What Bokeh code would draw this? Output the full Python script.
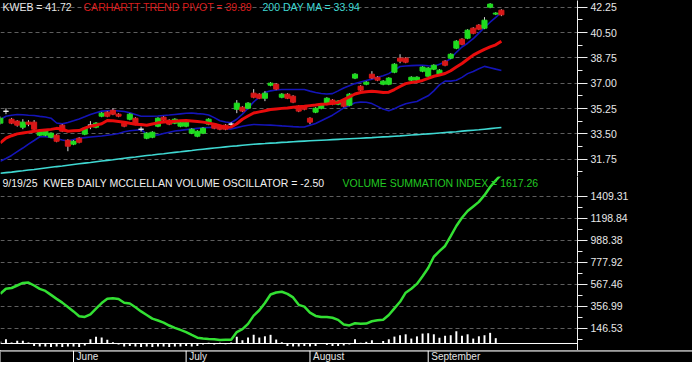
from bokeh.plotting import figure
from bokeh.layouts import column
from bokeh.models import (Range1d, LinearAxis, FixedTicker, PrintfTickFormatter,
                          Label, Span, Grid, ColumnDataSource)
from bokeh.embed import file_html
from bokeh.resources import INLINE
from bokeh.core.properties import value

# ---------------- data ----------------
# trading-day index, 0 = June 2 2025, last = Sep 19 2025
day_index = list(range(-13, 77))
month_names = ["June", "July", "August", "September"]
month_start_idx = [0, 20, 42, 63]

opens = [34.24, 35.06, 34.51, 34.38, 33.96, 34.31, 34.31, 33.41, 33.41, 33.27,
         33.41, 34.10, 33.06, 32.79, 33.20, 33.48, 34.10, 33.96, 34.72, 35.00,
         35.13, 34.86, 34.24, 34.51, 34.58, 33.82, 33.20, 33.27, 34.03, 34.65,
         34.44, 34.24, 34.03, 34.03, 33.55, 33.34, 33.55, 34.17, 34.17, 34.03,
         34.10, 34.17, 35.20, 35.34, 35.27, 36.31, 36.24, 35.96, 36.86, 36.93,
         36.03, 36.24, 36.10, 35.41, 35.41, 34.58, 35.00, 35.27, 35.55, 35.83,
         35.55, 35.83, 35.48, 37.35, 36.79, 36.93, 37.62, 37.41, 36.93, 36.93,
         37.76, 38.73, 38.73, 37.21, 37.21, 37.83, 37.48, 37.97, 37.62, 38.52,
         38.73, 39.42, 40.04, 40.11, 40.80, 41.01, 40.80, 42.25, 41.77, 42.04]
highs = [34.70, 35.27, 34.60, 34.45, 34.51, 34.44, 34.45, 33.75, 33.82, 33.60,
         33.48, 34.17, 33.13, 33.06, 33.27, 33.96, 34.38, 34.31, 35.00, 35.07,
         35.27, 34.93, 34.31, 34.93, 34.65, 34.00, 33.62, 33.68, 34.65, 34.72,
         34.51, 34.58, 34.38, 34.38, 33.89, 33.75, 33.96, 34.58, 34.24, 34.10,
         34.17, 34.31, 35.83, 35.41, 35.69, 36.59, 36.31, 36.45, 37.07, 37.00,
         36.31, 36.31, 36.17, 35.48, 35.48, 34.65, 35.34, 35.62, 36.03, 35.90,
         35.83, 35.90, 36.31, 37.69, 36.86, 37.14, 37.83, 37.48, 37.21, 37.41,
         38.38, 39.00, 38.80, 37.48, 37.48, 38.17, 38.11, 38.31, 37.97, 38.59,
         39.07, 39.97, 40.11, 40.73, 40.87, 41.08, 41.56, 42.53, 41.90, 42.11]
lows = [34.15, 34.86, 34.17, 34.00, 33.82, 34.03, 33.70, 33.35, 33.34, 33.20,
        32.92, 33.62, 32.30, 32.72, 32.85, 33.41, 33.82, 33.89, 34.65, 34.65,
        34.79, 34.65, 33.96, 34.44, 34.10, 33.65, 33.13, 33.20, 33.96, 34.38,
        34.10, 34.17, 33.96, 33.96, 33.48, 33.27, 33.48, 34.10, 33.82, 33.75,
        33.75, 34.03, 34.93, 35.00, 35.20, 35.96, 35.90, 35.76, 36.79, 36.52,
        35.96, 35.90, 35.62, 35.00, 35.13, 34.17, 34.93, 35.20, 35.48, 35.48,
        35.48, 35.34, 35.41, 37.28, 36.45, 36.86, 37.28, 37.14, 36.86, 36.86,
        37.69, 38.38, 38.38, 37.14, 37.14, 37.76, 37.41, 37.90, 37.55, 38.17,
        38.66, 39.35, 39.62, 40.04, 40.38, 40.66, 40.73, 42.18, 41.70, 41.63]
closes = [34.58, 35.06, 34.24, 34.10, 34.31, 34.17, 33.82, 33.68, 33.75, 33.55,
          32.99, 33.68, 32.65, 32.99, 32.92, 33.89, 34.10, 34.24, 34.93, 34.72,
          34.86, 34.72, 34.03, 34.86, 34.24, 33.82, 33.55, 33.61, 34.58, 34.44,
          34.17, 34.51, 34.31, 34.31, 33.82, 33.68, 33.89, 34.51, 33.89, 33.82,
          33.82, 34.17, 35.62, 35.07, 35.62, 36.03, 35.96, 36.31, 37.00, 36.59,
          36.24, 35.96, 35.69, 35.07, 35.20, 34.31, 35.27, 35.55, 35.96, 35.55,
          35.76, 35.41, 36.24, 37.62, 36.52, 37.07, 37.35, 37.21, 37.14, 37.35,
          38.31, 38.52, 38.45, 37.41, 37.41, 38.11, 38.04, 38.24, 37.90, 38.24,
          39.00, 39.90, 39.69, 40.66, 40.45, 40.73, 41.35, 42.46, 41.84, 41.72]

trend_pivot = [32.88, 33.20, 33.37, 33.50, 33.56, 33.62, 33.68, 33.73, 33.77, 33.81,
               33.88, 33.82, 33.68, 33.71, 33.73, 33.89, 34.03, 34.10, 34.20, 34.42,
               34.40, 34.36, 34.30, 34.23, 34.17, 34.14, 34.10, 34.18, 34.26, 34.31,
               34.34, 34.37, 34.40, 34.42, 34.39, 34.35, 34.31, 34.24, 34.17, 34.06,
               33.95, 33.97, 34.20, 34.51, 34.73, 34.94, 35.02, 35.10, 35.18, 35.22,
               35.26, 35.29, 35.34, 35.38, 35.41, 35.45, 35.49, 35.54, 35.57, 35.61,
               35.67, 35.86, 36.05, 36.25, 36.36, 36.41, 36.44, 36.40, 36.36, 36.38,
               36.56, 36.77, 36.97, 37.05, 37.10, 37.19, 37.33, 37.48, 37.57, 37.67,
               37.86, 38.11, 38.36, 38.65, 38.94, 39.14, 39.34, 39.51, 39.65, 39.89]
upper_band = [34.49, 34.72, 34.78, 34.84, 34.82, 34.79, 34.77, 34.71, 34.66, 34.58,
              34.25, 34.19, 34.28, 34.40, 34.53, 34.68, 34.84, 34.96, 35.07, 35.09,
              35.11, 35.08, 35.04, 34.96, 34.84, 34.72, 34.72, 34.72, 34.73, 34.77,
              34.80, 34.84, 34.88, 34.92, 34.94, 34.90, 34.87, 34.80, 34.62, 34.41,
              34.32, 34.27, 34.51, 34.86, 35.27, 35.71, 36.03, 36.35, 36.47, 36.53,
              36.56, 36.56, 36.56, 36.56, 36.56, 36.45, 36.36, 36.29, 36.25, 36.28,
              36.47, 36.67, 36.82, 36.97, 37.08, 37.18, 37.28, 37.40, 37.51, 37.66,
              37.90, 38.15, 38.19, 38.21, 38.23, 38.24, 38.20, 38.17, 38.31, 38.46,
              38.70, 39.13, 39.50, 39.76, 40.07, 40.46, 40.85, 41.21, 41.54, 41.88]
lower_band = [31.61, 31.80, 32.01, 32.27, 32.52, 32.79, 33.04, 33.30, 33.30, 33.25,
              33.17, 33.08, 33.01, 33.10, 33.20, 33.24, 33.28, 33.32, 33.35, 33.40,
              33.45, 33.53, 33.64, 33.71, 33.75, 33.79, 33.48, 33.43, 33.42, 33.52,
              33.61, 33.70, 33.74, 33.79, 33.84, 33.88, 33.92, 33.94, 33.95, 33.93,
              33.87, 33.83, 33.93, 34.02, 34.10, 34.15, 34.13, 34.11, 34.10, 34.08,
              34.05, 34.03, 34.00, 33.98, 33.97, 34.10, 34.22, 34.41, 34.60, 34.79,
              35.04, 35.29, 35.46, 35.65, 35.69, 35.68, 35.59, 35.40, 35.21, 35.09,
              35.23, 35.43, 35.58, 35.66, 35.74, 35.94, 36.13, 36.47, 36.88, 37.14,
              37.14, 37.20, 37.40, 37.66, 37.81, 38.00, 38.16, 38.07, 37.97, 37.88]
ma200 = [30.78, 30.82, 30.86, 30.91, 30.95, 31.00, 31.04, 31.09, 31.14, 31.19,
         31.24, 31.28, 31.33, 31.38, 31.43, 31.48, 31.52, 31.57, 31.62, 31.67,
         31.71, 31.76, 31.81, 31.86, 31.90, 31.95, 32.00, 32.04, 32.09, 32.13,
         32.18, 32.22, 32.26, 32.31, 32.35, 32.40, 32.44, 32.48, 32.52, 32.56,
         32.60, 32.64, 32.67, 32.71, 32.75, 32.78, 32.81, 32.83, 32.86, 32.88,
         32.91, 32.93, 32.96, 32.98, 33.00, 33.02, 33.04, 33.06, 33.08, 33.10,
         33.12, 33.14, 33.16, 33.18, 33.20, 33.22, 33.24, 33.27, 33.29, 33.31,
         33.34, 33.36, 33.39, 33.42, 33.45, 33.47, 33.50, 33.53, 33.56, 33.59,
         33.62, 33.65, 33.69, 33.72, 33.75, 33.78, 33.82, 33.86, 33.90, 33.94]

vol_sum_index = [476, 524, 531, 555, 579, 583, 555, 522, 503, 465,
                 427, 391, 350, 307, 261, 254, 279, 334, 387, 429,
                 432, 426, 390, 382, 347, 307, 273, 238, 220, 200,
                 172, 150, 130, 109, 82, 56, 47, 43, 40, 33,
                 35, 36, 109, 137, 188, 267, 318, 388, 469, 488,
                 495, 475, 441, 370, 353, 295, 264, 254, 254, 246,
                 226, 182, 173, 194, 188, 191, 213, 223, 228, 272,
                 336, 399, 486, 524, 570, 643, 722, 830, 883, 933,
                 1027, 1124, 1203, 1267, 1311, 1355, 1419, 1497, 1561, 1617.26]
vol_oscillator = [19, 41, 9, 26, 26, 9, -24, -28, -28, -33,
                  -28, -33, -28, -28, -33, -19, 41, 64, 57, 35,
                  12, -9, -28, -24, -28, -33, -28, -33, -28, -28,
                  -33, -28, -28, -24, -28, -24, -9, 8, -9, 8,
                  -8, 9, 64, 31, 57, 83, 57, 69, 83, 38,
                  12, -24, -28, -28, -24, -28, -24, -5, -14, -24,
                  -24, -19, -9, 41, 7, 16, 31, 5, 24, 40,
                  66, 79, 88, 47, 68, 95, 98, 88, 55, 74,
                  79, 117, 74, 88, 47, 69, 79, 102, 51, -2.5]

price_ticks = [31.75, 33.50, 35.25, 37.00, 38.75, 40.50, 42.25]
vsi_ticks = [146.53, 356.99, 567.46, 777.92, 988.38, 1198.84, 1409.31]
last_date = "9/19/25"
symbol = "KWEB"

# ---------------- layout / style ----------------
FONT = "Liberation Sans"
FS = "10.5px"
W = 692
RIGHT = 115
X0, X1 = -12.97, 89.52
GRID_COLOR = "#5e5e5e"
AX_COLOR = "#f0f0f0"


def make_fig(width, height, x_range, y_range, right):
    p = figure(width=width, height=height, x_range=x_range, y_range=y_range,
               output_backend="svg", toolbar_location=None,
               x_axis_location=None, y_axis_location=None,
               min_border_left=0, min_border_right=right,
               min_border_top=0, min_border_bottom=0,
               background_fill_color="black", border_fill_color="black",
               outline_line_color=None)
    for r in list(p.center):
        if isinstance(r, Grid):
            r.visible = False
    return p


def add_right_axis(p, ticks):
    minor = [(a + b) / 2 for a, b in zip(ticks[:-1], ticks[1:])]
    minor = [ticks[0] - (ticks[1] - ticks[0]) / 2] + minor
    ax = LinearAxis(ticker=FixedTicker(ticks=ticks, minor_ticks=minor),
                    formatter=PrintfTickFormatter(format="%.2f"))
    ax.axis_line_color = AX_COLOR
    ax.major_tick_line_color = AX_COLOR
    ax.minor_tick_line_color = AX_COLOR
    ax.major_tick_in = 0
    ax.major_tick_out = 10
    ax.minor_tick_in = 0
    ax.minor_tick_out = 5
    ax.major_label_standoff = 3
    ax.major_label_text_color = "#e8e8e8"
    ax.major_label_text_font = FONT
    ax.major_label_text_font_size = FS
    p.add_layout(ax, "right")
    g = Grid(dimension=1, ticker=FixedTicker(ticks=ticks))
    g.grid_line_color = GRID_COLOR
    g.grid_line_dash = "4 3"
    g.grid_line_width = 1
    p.add_layout(g)


# ---------- price panel ----------
top = make_fig(W, 176, Range1d(X0, X1), Range1d(30.555, 42.71), RIGHT)
add_right_axis(top, price_ticks)

colors = []
for o, c in zip(opens, closes):
    if c > o:
        colors.append("#1fdc1f")
    elif c < o:
        colors.append("#d81818")
    else:
        colors.append("#f0f0f0")
src = ColumnDataSource(dict(
    x=day_index, o=opens, h=highs, l=lows, c=closes,
    t=[max(o, c) for o, c in zip(opens, closes)],
    b=[min(o, c) for o, c in zip(opens, closes)],
    col=colors))

top.line(day_index, ma200, line_color="#3fd8d2", line_width=1.6)
top.line(day_index, upper_band, line_color="#1414b8", line_width=1.6)
top.line(day_index, lower_band, line_color="#1414b8", line_width=1.6)
top.segment(x0="x", y0="l", x1="x", y1="h", source=src, line_color="#d8d8d8", line_width=1)
top.vbar(x="x", width=0.9, top="t", bottom="b", source=src,
         fill_color="col", line_color="col", line_width=1)
top.line(day_index, trend_pivot, line_color="#e80c0c", line_width=3)

top.add_layout(Label(x=-12.62, y=42.25, text=f"{symbol} = {closes[-1]:.2f}",
                     text_color="#e8e8e8", text_font=FONT, text_font_size=FS,
                     text_baseline="middle"))
top.add_layout(Label(x=1.78, y=42.25, text=f"CARHARTT TREND PIVOT = {trend_pivot[-1]:.2f}",
                     text_color="#d81c1c", text_font=FONT, text_font_size=FS,
                     text_baseline="middle"))
top.add_layout(Label(x=33.57, y=42.25, text=f"200 DAY MA = {ma200[-1]:.2f}",
                     text_color="#3fd8d2", text_font=FONT, text_font_size=FS,
                     text_baseline="middle"))

# ---------- volume panel ----------
bot = make_fig(W, 174, Range1d(X0, X1), Range1d(-67, 1597.7), RIGHT)
add_right_axis(bot, vsi_ticks)
bot.add_layout(Span(location=0, dimension="width", line_color="white", line_width=1))
bot.vbar(x=day_index, width=0.35, top=vol_oscillator, bottom=0,
         fill_color="white", line_color=None)
bot.line(day_index, vol_sum_index, line_color="#33e033", line_width=2.5)
bot.add_layout(Label(x=-12.62, y=1540,
                     text=f"{last_date}\u00a0\u00a0{symbol} DAILY MCCLELLAN VOLUME OSCILLATOR = {vol_oscillator[-1]:.2f}",
                     text_color="#f0f0f0", text_font=FONT, text_font_size=FS,
                     text_baseline="middle"))
bot.add_layout(Label(x=47.78, y=1540,
                     text=f"VOLUME SUMMATION INDEX = {vol_sum_index[-1]:.2f}",
                     text_color="#22c822", text_font=FONT, text_font_size=FS,
                     text_baseline="middle"))

# ---------- date strip (separate root so its frame spans the full width) ----------
strip = make_fig(W, 12, Range1d(X0, X0 + (X1 - X0) * W / (W - RIGHT)),
                 Range1d(0, 12), 0)
strip.add_layout(Span(location=11.5, dimension="width", line_color="white", line_width=1))
strip.segment(x0=month_start_idx, y0=[0] * 4, x1=month_start_idx, y1=[12] * 4,
              line_color="white", line_width=1)
strip.text(x=[m + 0.55 for m in month_start_idx], y=[5.6] * 4, text=month_names,
           text_font=value(FONT), text_font_size="10px", text_color="#e4e4e4",
           text_baseline="middle", text_align="left")

panels = column(top, bot, spacing=0, background="black")
open("out.html", "w").write(file_html([panels, strip], INLINE))
